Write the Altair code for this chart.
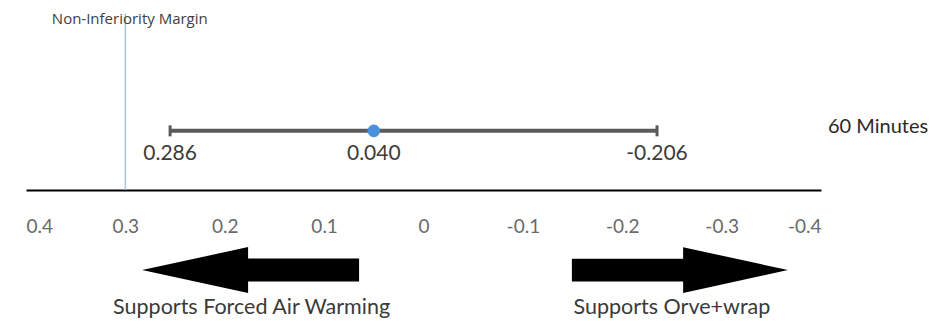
import altair as alt
import pandas as pd

# ---- data ----
axis_ticks = [0.4, 0.3, 0.2, 0.1, 0, -0.1, -0.2, -0.3, -0.4]
margin_value = [0.3]
margin_label = ["Non-Inferiority Margin"]
estimate = [0.05]                 # drawn position of the point
ci_bounds = [0.255, -0.235]       # drawn positions of the interval ends
value_labels = ["0.286", "0.040", "-0.206"]
value_label_x = [0.255, 0.05, -0.235]
row_label = ["60 Minutes"]
arrow_labels = ["Supports Forced Air Warming", "Supports Orve+wrap"]
arrow_x = [0.174, -0.258]
arrow_text_x = [0.173, -0.25]

# vertical levels (abstract units; 0 = axis line, 10 = top)
ROW_Y = 3.25
VALUE_Y = 2.0
TOP_Y = 9.7
MARGIN_TEXT_Y = 9.42
ARROW_Y = -4.4
ARROW_TEXT_Y = -6.5

FONT = "Lato"

xscale = alt.Scale(domain=[0.4, -0.4], nice=False, zero=False)
yscale = alt.Scale(domain=[0, 10], nice=False, zero=False)

xaxis = alt.Axis(values=axis_ticks, labelExpr="'' + datum.value", title=None,
                 grid=False, ticks=False, domainColor="black", domainWidth=2,
                 labelFontSize=19, labelColor="#6a6a6a", labelPadding=27,
                 labelFont=FONT)

def X(field, axis=None):
    if axis is None:
        return alt.X(f"{field}:Q", scale=xscale)
    return alt.X(f"{field}:Q", scale=xscale, axis=axis)

def Y(field):
    return alt.Y(f"{field}:Q", scale=yscale, axis=None)

# axis carrier (invisible)
axis_df = pd.DataFrame({"x": axis_ticks, "y": [0] * len(axis_ticks)})
axis_layer = alt.Chart(axis_df).mark_point(opacity=0).encode(x=X("x", xaxis), y=Y("y"))

# non-inferiority margin
margin_df = pd.DataFrame({"x": margin_value, "y": [TOP_Y], "y2": [0]})
margin_rule = alt.Chart(margin_df).mark_rule(color="#a9c3d9", strokeWidth=1.5).encode(
    x=X("x"), y=Y("y"), y2="y2:Q")

margin_text_df = pd.DataFrame({"x": [0.374], "y": [MARGIN_TEXT_Y], "t": margin_label})
margin_text = alt.Chart(margin_text_df).mark_text(
    align="left", baseline="middle", fontSize=15, color="#404040", font="Open Sans").encode(
    x=X("x"), y=Y("y"), text="t:N")

# interval
ci_df = pd.DataFrame({"lo": [ci_bounds[0]], "hi": [ci_bounds[1]], "y": [ROW_Y]})
ci_line = alt.Chart(ci_df).mark_rule(color="#5a5a5a", strokeWidth=4).encode(
    x=X("lo"), x2="hi:Q", y=Y("y"))

cap_df = pd.DataFrame({"x": ci_bounds, "y": [ROW_Y] * 2})
caps = alt.Chart(cap_df).mark_tick(color="#5a5a5a", thickness=3, size=11,
                                   orient="vertical", opacity=1).encode(x=X("x"), y=Y("y"))

pt_df = pd.DataFrame({"x": estimate, "y": [ROW_Y]})
point = alt.Chart(pt_df).mark_circle(color="#4a90dc", size=160, opacity=1).encode(
    x=X("x"), y=Y("y"))

val_df = pd.DataFrame({"x": value_label_x, "y": [VALUE_Y] * 3, "t": value_labels})
val_text = alt.Chart(val_df).mark_text(fontSize=21, color="#3c3c3c", baseline="middle",
                                       font=FONT).encode(x=X("x"), y=Y("y"), text="t:N")

row_df = pd.DataFrame({"x": [-0.407], "y": [3.45], "t": row_label})
row_text = alt.Chart(row_df).mark_text(fontSize=20, color="#2a2a2a", align="left",
                                       baseline="middle", font=FONT).encode(
    x=X("x"), y=Y("y"), text="t:N")

# arrows
left_path = "M -1 0 L -0.023 -0.212 L -0.023 -0.106 L 1 -0.106 L 1 0.106 L -0.023 0.106 L -0.023 0.212 Z"
right_path = "M 1 0 L 0.03 -0.212 L 0.03 -0.106 L -1 -0.106 L -1 0.106 L 0.03 0.106 L 0.03 0.212 Z"

la_df = pd.DataFrame({"x": [arrow_x[0]], "y": [ARROW_Y]})
left_arrow = alt.Chart(la_df).mark_point(shape=left_path, filled=True, color="black",
                                         opacity=1, size=47089, strokeWidth=0).encode(
    x=X("x"), y=Y("y"))
ra_df = pd.DataFrame({"x": [arrow_x[1]], "y": [ARROW_Y]})
right_arrow = alt.Chart(ra_df).mark_point(shape=right_path, filled=True, color="black",
                                          opacity=1, size=46656, strokeWidth=0).encode(
    x=X("x"), y=Y("y"))

at_df = pd.DataFrame({"x": arrow_text_x, "y": [ARROW_TEXT_Y] * 2, "t": arrow_labels})
arrow_text = alt.Chart(at_df).mark_text(fontSize=21.5, color="#3a3a3a", baseline="middle",
                                        font=FONT).encode(x=X("x"), y=Y("y"), text="t:N")

chart = alt.layer(
    axis_layer, margin_rule, margin_text, ci_line, caps, point, val_text, row_text,
    left_arrow, right_arrow, arrow_text
).properties(
    width=795, height=182,
    autosize=alt.AutoSizeParams(type="none"),
    padding={"left": 18, "top": 0, "right": 112, "bottom": 134},
    background="white",
).configure_view(strokeWidth=0)

chart.save("out.html", embed_options={"renderer": "svg", "actions": False})
